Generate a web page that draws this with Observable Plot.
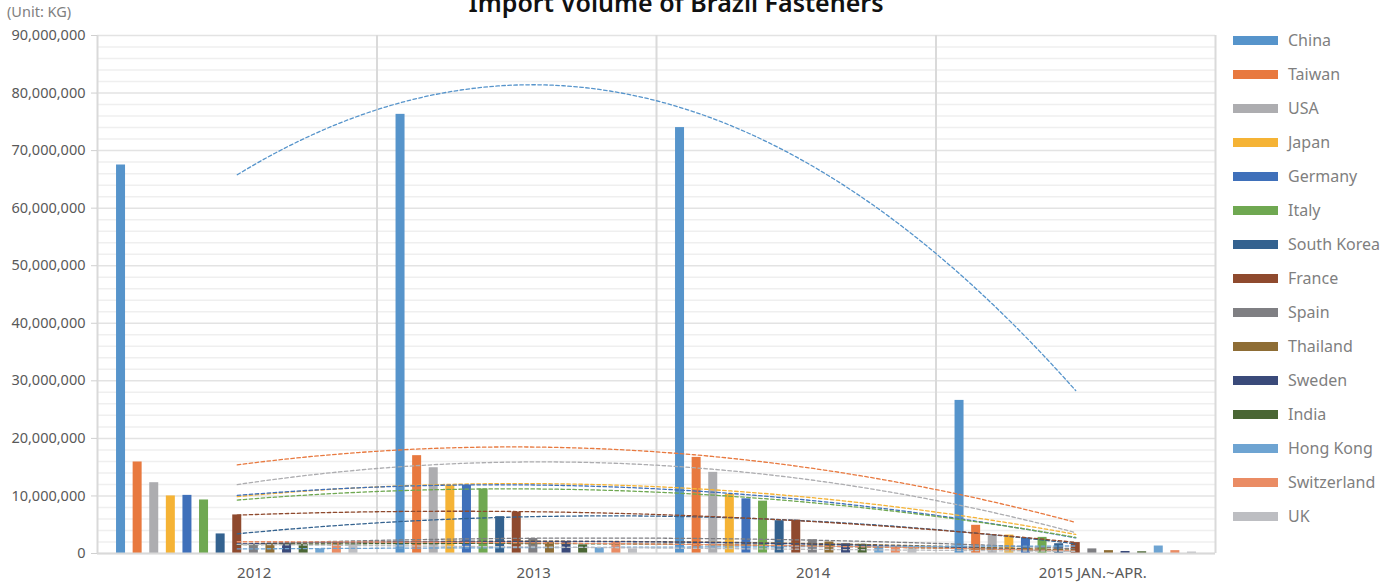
<!DOCTYPE html>
<html>
<head>
<meta charset="utf-8">
<script src="https://cdn.jsdelivr.net/npm/d3@7"></script>
<script src="https://cdn.jsdelivr.net/npm/@observablehq/plot@0.6"></script>
<style>
  html, body { margin: 0; padding: 0; background: #fff; overflow: hidden; }
  #wrap { position: relative; width: 1398px; height: 582px; font-family: "Noto Sans", sans-serif; }
  #chart { position: absolute; left: 0; top: 0; }
  .title { position: absolute; left: 0; width: 1352px; top: -15px; text-align: center;
           font-size: 25px; font-weight: 600; color: #111; white-space: nowrap; line-height: 34px; }
  .unit { position: absolute; left: 7px; top: 1px; font-size: 14.5px; color: #7f7f7f; }
  .leg { position: absolute; left: 1233px; height: 34px; display: flex; align-items: center;
         font-size: 16px; color: #7f7f7f; white-space: nowrap; }
  .leg .sw { width: 45px; height: 9px; margin-right: 10px; }
</style>
</head>
<body>
<div id="wrap">
  <div id="chart"></div>
  <div class="title">Import Volume of Brazil Fasteners</div>
  <div class="unit">(Unit: KG)</div>
  <div id="legend"></div>
</div>
<script>
// Periods on the category axis
const years = ["2012", "2013", "2014", "2015 JAN.~APR."];

// Source countries, in series order
const countries = ["China", "Taiwan", "USA", "Japan", "Germany", "Italy", "South Korea",
  "France", "Spain", "Thailand", "Sweden", "India", "Hong Kong", "Switzerland", "UK"];

// Series colours
const palette = ["#5694cb", "#e8793f", "#adadb0", "#f5b335", "#3f70ba", "#6fa851", "#34628f",
  "#8f4a2e", "#7f7f83", "#8e6d35", "#3a4a7a", "#4a6634", "#6ea4d2", "#ea8c64", "#bdbec2"];

// Import volume (KG) per country, one array per period
const v2012 = [67500000, 15900000, 12300000, 10000000, 10100000, 9300000, 3400000,
  6700000, 1600000, 1700000, 1700000, 1600000, 800000, 2000000, 1700000];
const v2013 = [76300000, 17000000, 14900000, 11800000, 11900000, 11200000, 6400000,
  7200000, 2600000, 1900000, 2100000, 1500000, 1000000, 2000000, 800000];
const v2014 = [74000000, 16700000, 14100000, 10300000, 9500000, 9100000, 5700000,
  5800000, 2400000, 2000000, 1700000, 1600000, 1200000, 1200000, 1100000];
const v2015 = [26600000, 4900000, 3300000, 3200000, 2700000, 2800000, 1700000,
  1900000, 800000, 500000, 350000, 300000, 1300000, 500000, 250000];

const periods = [v2012, v2013, v2014, v2015];

// Clustered bar layout within each period slot (x units: one period = 1)
const slot = 0.0594;
const barW = 0.0322;

const bars = [];
periods.forEach((vals, p) => {
  vals.forEach((v, i) => {
    const cx = p + 1 + (i - (countries.length - 1) / 2) * slot;
    bars.push({country: countries[i], x1: cx - barW / 2, x2: cx + barW / 2, value: v});
  });
});

// Second-order polynomial trendline per country (least squares over periods 1..4)
function quadFit(ys) {
  const xs = ys.map((_, i) => i + 1);
  const mx = d3.mean(xs);
  const t = xs.map(x => x - mx);
  const q0 = d3.mean(t, d => d * d);
  const q = t.map(d => d * d - q0);
  const a = d3.mean(ys);
  const b = d3.sum(t, (d, i) => d * ys[i]) / d3.sum(t, d => d * d);
  const c = d3.sum(q, (d, i) => d * ys[i]) / d3.sum(q, d => d * d);
  return x => { const u = x - mx; return a + b * u + c * (u * u - q0); };
}

const trend = [];
countries.forEach((name, i) => {
  const f = quadFit(periods.map(p => p[i]));
  for (let k = 0; k <= 90; k++) {
    const x = 1 + (3 * k) / 90;
    trend.push({country: name, x, y: f(x)});
  }
});

const majorTicks = d3.range(0, 90000001, 10000000);
const minorTicks = d3.range(2000000, 90000001, 2000000).filter(v => v % 10000000 !== 0);

const chart = Plot.plot({
  width: 1398,
  height: 582,
  marginLeft: 97,
  marginRight: 183,
  marginTop: 35,
  marginBottom: 29,
  style: {fontFamily: "Noto Sans, sans-serif", fontSize: "14.5px", color: "#595959", background: "#fff"},
  x: {domain: [0.5, 4.5]},
  y: {domain: [0, 90000000]},
  color: {domain: countries, range: palette},
  marks: [
    Plot.ruleY(minorTicks, {stroke: "#efefef", strokeWidth: 1.5}),
    Plot.ruleY(majorTicks, {stroke: "#e3e3e3", strokeWidth: 1.5}),
    Plot.ruleX([1.5, 2.5, 3.5, 4.5], {stroke: "#dadada", strokeWidth: 2}),
    Plot.rectY(bars, {x1: "x1", x2: "x2", y1: 0, y2: "value", fill: "country"}),
    Plot.line(trend, {x: "x", y: "y", z: "country", stroke: "country",
      strokeWidth: 1.3, strokeDasharray: "3.5,2.5", curve: "linear"}),
    Plot.ruleX([0.5], {stroke: "#d9d9d9", strokeWidth: 2}),
    Plot.ruleY([0], {stroke: "#d9d9d9", strokeWidth: 2}),
    Plot.axisY({ticks: majorTicks, tickFormat: d3.format(","), tickSize: 6, tickPadding: 6,
      stroke: "#d0d0d0", fill: "#595959", label: null}),
    Plot.axisX({ticks: [1, 2, 3, 4], tickFormat: d => years[d - 1], tickSize: 0,
      tickPadding: 14, dx: 17, fontSize: 15, fill: "#595959", label: null})
  ]
});
document.getElementById("chart").appendChild(chart);

// Legend: one swatch row per country
const legend = document.getElementById("legend");
countries.forEach((name, i) => {
  const row = document.createElement("div");
  row.className = "leg";
  row.style.top = (23 + i * 34) + "px";
  const sw = document.createElement("div");
  sw.className = "sw";
  sw.style.background = palette[i];
  row.appendChild(sw);
  row.appendChild(document.createTextNode(name));
  legend.appendChild(row);
});
</script>
</body>
</html>
